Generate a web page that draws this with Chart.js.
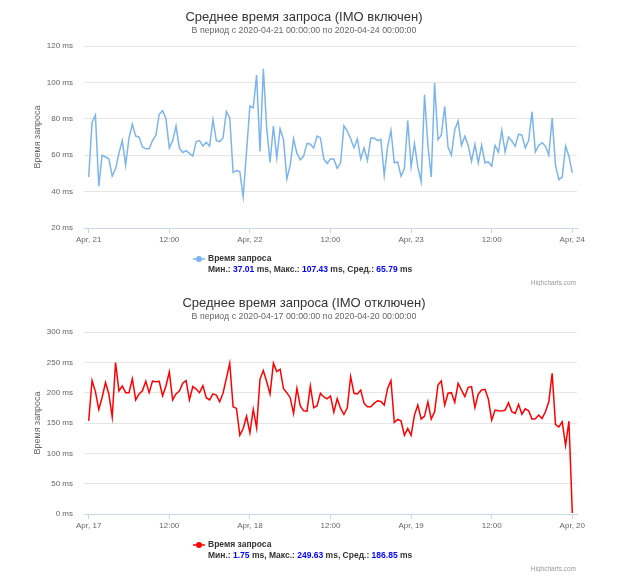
<!DOCTYPE html>
<html>
<head>
<meta charset="utf-8">
<script src="https://cdn.jsdelivr.net/npm/chart.js@4"></script>
<style>
    html, body { margin: 0; padding: 0; background: #fff; }
    .box { width: 640px; height: 286px; }
</style>
</head>
<body>
<div class="box"><canvas id="chart_on" width="640" height="286"></canvas></div>
<div class="box"><canvas id="chart_off" width="640" height="286"></canvas></div>
<script>
// half-hour samples, 3 days each
const stepHours = 0.5;
const xTickHours = [0, 12, 24, 36, 48, 60, 72];

const onLabels = ['Apr, 21', '12:00', 'Apr, 22', '12:00', 'Apr, 23', '12:00', 'Apr, 24'];
const offLabels = ['Apr, 17', '12:00', 'Apr, 18', '12:00', 'Apr, 19', '12:00', 'Apr, 20'];

const onTicks = [20, 40, 60, 80, 100, 120];
const offTicks = [0, 50, 100, 150, 200, 250, 300];

const onValues = [
    48, 78, 82, 43, 60, 59, 58, 48.5, 52.5, 61, 68, 54.5, 69.5, 77, 70.5, 70,
    64.5, 63.5, 63.5, 68, 71, 82.5, 84.5, 80, 64, 68, 76, 64, 61.5, 62.5, 61, 59.5,
    67.5, 68, 65, 67, 65, 79.5, 68, 67.5, 69.5, 84, 80.5, 50.5, 51.5, 51, 37.01, 62,
    87, 86, 104, 62, 107.43, 75, 56, 76, 58.5, 74.5, 68.5, 47, 54.5, 69, 61, 57.5,
    59.5, 66.5, 66, 64, 70.5, 69.5, 58, 55.5, 58, 57.8, 52.8, 55.8, 76.2, 73.3, 69, 64,
    69, 58, 64, 57, 69.3, 69.5, 68, 68.7, 48.8, 64.5, 73.6, 55.8, 56.3, 48.5, 52.7, 79,
    53.6, 66.4, 53.6, 45.4, 93.2, 65.4, 48, 99.6, 68.5, 71, 86.8, 64.5, 60, 74, 78.8, 65.4,
    70.4, 65.4, 56.7, 66, 55.8, 65.6, 55.8, 56.3, 54, 65.4, 61.6, 73.6, 61.8, 70, 67.8, 65,
    71.6, 71, 64, 68, 83.9, 61.8, 65.4, 66.9, 65, 60, 80.4, 54.5, 46.6, 48, 65, 59.4,
    50.3
];

const offValues = [
    153.6, 220, 201.7, 172.4, 192, 216.6, 197.8, 160, 249.63, 203, 211, 200, 200, 223, 188, 198,
    203, 219, 200, 219, 218, 218.8, 195, 211, 234, 188, 198, 202.8, 215.5, 220, 188, 210,
    206, 200, 211.6, 191.7, 188, 198, 196, 185, 199, 223.8, 248.5, 176.8, 174, 129.8, 141, 161,
    133.7, 172.4, 142, 222, 236.5, 218, 197.8, 248.6, 234.8, 238.7, 206.6, 200, 191.7, 165.7, 207, 178,
    170, 169.6, 211, 175, 178.5, 199, 193, 190, 194.5, 168, 190, 174, 164, 175, 226.5, 199,
    197.8, 204.4, 182.3, 176.8, 176.8, 182.3, 186.7, 185.6, 179.6, 207, 220, 150.8, 155.8, 153.6, 129.8, 141,
    129.8, 163, 179.6, 156.4, 161.3, 185, 156.4, 168.5, 212.7, 219.3, 179.6, 199, 200, 184, 215.5, 204.4,
    193.4, 208.8, 210, 175.7, 197.8, 204.4, 205.5, 189.5, 154.7, 171.3, 170.2, 169.6, 171.3, 183.4, 168.5, 165.7,
    180.7, 164.6, 173.5, 170.2, 156.4, 157, 163, 157.5, 168.5, 185, 232, 147.5, 143.6, 152, 113, 153,
    1.75
];

const onStats = ['37.01', '107.43', '65.79'];
const offStats = ['1.75', '249.63', '186.85'];

const seriesName = 'Время запроса';
const font = '"Liberation Sans", Arial, sans-serif';

// title + subtitle, centred like the highcharts original (not on canvas middle)
const headText = {
    id: 'headText',
    afterDraw(chart, args, opts) {
        const ctx = chart.ctx;
        ctx.save();
        ctx.textAlign = 'center';
        ctx.textBaseline = 'middle';
        ctx.fillStyle = '#333333';
        ctx.font = '13px ' + font;
        ctx.fillText(opts.title, 304, 17);
        ctx.fillStyle = '#666666';
        ctx.font = '8.8px ' + font;
        ctx.fillText(opts.subtitle, 304, 31);
        ctx.restore();
    }
};

// legend with min / max / avg line, plus credits text
const statsLegend = {
    id: 'statsLegend',
    afterDraw(chart, args, opts) {
        const ctx = chart.ctx;
        const s = opts.stats;
        ctx.save();
        ctx.strokeStyle = opts.color;
        ctx.lineWidth = 1.5;
        ctx.beginPath();
        ctx.moveTo(193, 259);
        ctx.lineTo(205, 259);
        ctx.stroke();
        ctx.fillStyle = opts.color;
        ctx.beginPath();
        ctx.arc(199, 259, 3, 0, Math.PI * 2);
        ctx.fill();

        ctx.font = 'bold 8.5px ' + font;
        ctx.textBaseline = 'middle';
        ctx.textAlign = 'left';
        ctx.fillStyle = '#333333';
        ctx.fillText(seriesName, 208, 259);

        const parts = [
            ['Мин.: ', '#333333'], [s[0], '#0000ff'], [' ms, Макс.: ', '#333333'],
            [s[1], '#0000ff'], [' ms, Сред.: ', '#333333'], [s[2], '#0000ff'], [' ms', '#333333']
        ];
        let x = 208;
        for (const [text, color] of parts) {
            ctx.fillStyle = color;
            ctx.fillText(text, x, 270);
            x += ctx.measureText(text).width;
        }

        ctx.font = '6.5px ' + font;
        ctx.fillStyle = '#999999';
        ctx.textAlign = 'right';
        ctx.fillText('Highcharts.com', 576, 283);
        ctx.restore();
    }
};

function make_chart(id, title, subtitle, values, color, labels, yTicks, stats) {
    const data = {
        datasets: [{
            label: seriesName,
            data: values.map((v, i) => ({x: i * stepHours, y: v})),
            borderColor: color,
            backgroundColor: color,
            borderWidth: 1.5,
            pointRadius: 0,
            tension: 0
        }]
    };

    const config = {
        type: 'line',
        data: data,
        plugins: [headText, statsLegend],
        options: {
            responsive: false,
            animation: false,
            layout: {
                padding: {top: 46, left: 0, right: 63, bottom: 38}
            },
            plugins: {
                legend: {display: false},
                tooltip: {enabled: false},
                headText: {title: title, subtitle: subtitle},
                statsLegend: {color: color, stats: stats}
            },
            scales: {
                x: {
                    type: 'linear',
                    min: -0.7,
                    max: 72.7,
                    afterBuildTicks: scale => { scale.ticks = xTickHours.map(v => ({value: v})); },
                    afterFit: scale => { scale.height = 20; },
                    ticks: {
                        callback: v => labels[xTickHours.indexOf(v)],
                        color: '#666666',
                        font: {family: font, size: 8},
                        padding: 2,
                        maxRotation: 0,
                        autoSkip: false
                    },
                    grid: {drawOnChartArea: false, color: '#ccd6eb', tickLength: 5},
                    border: {color: '#ccd6eb'}
                },
                y: {
                    min: yTicks[0],
                    max: yTicks[yTicks.length - 1],
                    afterBuildTicks: scale => { scale.ticks = yTicks.map(v => ({value: v})); },
                    afterFit: scale => { scale.width = 84; },
                    ticks: {
                        callback: v => v + ' ms',
                        color: '#666666',
                        font: {family: font, size: 8},
                        padding: 11
                    },
                    grid: {color: '#e6e6e6', drawTicks: false},
                    border: {display: false},
                    title: {
                        display: true,
                        text: seriesName,
                        color: '#666666',
                        font: {family: font, size: 9},
                        padding: {top: 32, bottom: 0}
                    }
                }
            }
        }
    };

    const ctx = document.getElementById(id).getContext('2d');
    return new Chart(ctx, config);
}

make_chart('chart_on', 'Среднее время запроса (IMO включен)',
    'В период с 2020-04-21 00:00:00 по 2020-04-24 00:00:00',
    onValues, '#7cb5ec', onLabels, onTicks, onStats);

make_chart('chart_off', 'Среднее время запроса (IMO отключен)',
    'В период с 2020-04-17 00:00:00 по 2020-04-20 00:00:00',
    offValues, '#ff0000', offLabels, offTicks, offStats);
</script>
</body>
</html>
